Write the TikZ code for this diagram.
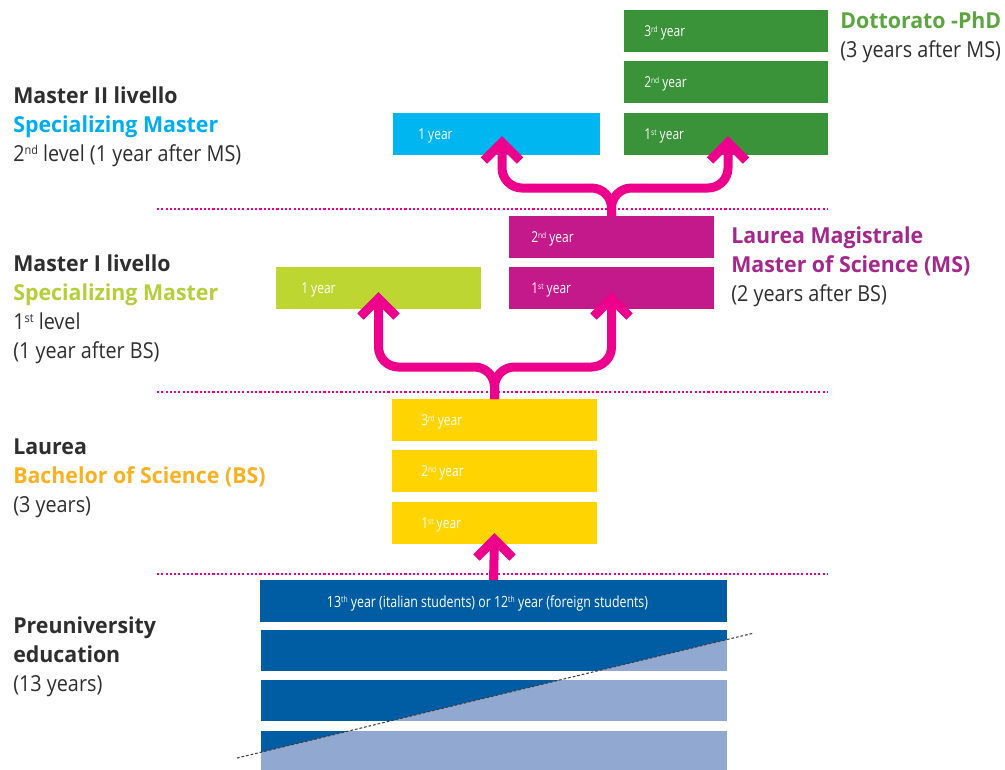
\documentclass[tikz,border=0pt]{standalone}
\usepackage{fontspec}
\usepackage{graphicx}
\setmainfont{Open Sans}
\newfontfamily\hfont[FakeStretch=0.97]{Open Sans}
\newfontfamily\regfont[FakeStretch=0.9]{Open Sans}
\newfontfamily\boxfont[FakeStretch=0.8]{Open Sans}
\newcommand\sups[1]{\raisebox{0.29em}{\scalebox{0.55}{#1}}}
\usetikzlibrary{calc}
\definecolor{txtdark}{HTML}{2E2E2E}
\definecolor{txtcyan}{HTML}{00AEEF}
\definecolor{txtlime}{HTML}{B5CF3A}
\definecolor{txtorange}{HTML}{F7B121}
\definecolor{txtgreen}{HTML}{5BA640}
\definecolor{txtmag}{HTML}{A4278B}
\definecolor{cgreen}{HTML}{3A9339}
\definecolor{ccyan}{HTML}{00B6F0}
\definecolor{cmag}{HTML}{C4198B}
\definecolor{clime}{HTML}{BDD631}
\definecolor{cyellow}{HTML}{FFD400}
\definecolor{cdblue}{HTML}{005DA3}
\definecolor{clblue}{HTML}{91A8D1}
\definecolor{cpink}{HTML}{EC008C}
\begin{document}
\begin{tikzpicture}[x=0.75pt,y=-0.75pt,
  yrbox/.style={draw=none,inner sep=0pt,outer sep=0pt,minimum height=31.5pt,minimum width=153.75pt},
  yrtext/.style={anchor=base west,inner sep=0pt,text=white,font=\boxfont\fontsize{11.25}{13}\selectfont},
  hbold/.style={anchor=base west,inner sep=0pt,font=\hfont\bfseries\fontsize{16.5}{20}\selectfont},
  hreg/.style={anchor=base west,inner sep=0pt,text=txtdark,font=\regfont\fontsize{16.5}{20}\selectfont},
  arr/.style={draw=cpink,line width=6.75pt},
  chev/.style={draw=cpink,line width=6.75pt,line join=miter,line cap=butt},
  sep/.style={draw=cpink,line width=1.8pt,dash pattern=on 1.6pt off 1.6pt},
  diag/.style={draw=black!75,line width=0.8pt,dash pattern=on 2pt off 1.5pt}]
\useasboundingbox (0,0) rectangle (1005,769);

% separators
\draw[sep] (157,209) -- (828,209);
\draw[sep] (157,392) -- (828,392);
\draw[sep] (157,574) -- (828,574);

% Dottorato
\node[yrbox,fill=cgreen,minimum width=153pt] (phd3) at (726,31) {};
\node[yrbox,fill=cgreen,minimum width=153pt] (phd2) at (726,82) {};
\node[yrbox,fill=cgreen,minimum width=153pt] (phd1) at (726,134) {};
\node[yrtext] (tphd3) at ($(phd3.west)+(20,5.5)$) {3\sups{rd} year};
\node[yrtext] (tphd2) at ($(phd2.west)+(20,5.5)$) {2\sups{nd} year};
\node[yrtext] (tphd1) at ($(phd1.west)+(20,5.5)$) {1\sups{st} year};

% Master II
\node[yrbox,fill=ccyan,minimum width=155.25pt] (m2) at (496.5,134) {};
\node[yrtext] (tm2) at ($(m2.west)+(25,5.5)$) {1 year};

% Laurea Magistrale
\node[yrbox,fill=cmag] (ms2) at (611.5,237) {};
\node[yrbox,fill=cmag] (ms1) at (611.5,288) {};
\node[yrtext] (tms2) at ($(ms2.west)+(22,5.5)$) {2\sups{nd} year};
\node[yrtext] (tms1) at ($(ms1.west)+(22,5.5)$) {1\sups{st} year};

% Master I
\node[yrbox,fill=clime] (m1) at (378.5,288) {};
\node[yrtext] (tm1) at ($(m1.west)+(25,5.5)$) {1 year};

% Bachelor
\node[yrbox,fill=cyellow] (bs3) at (494.5,420) {};
\node[yrbox,fill=cyellow] (bs2) at (494.5,471) {};
\node[yrbox,fill=cyellow] (bs1) at (494.5,523) {};
\node[yrtext] (tbs3) at ($(bs3.west)+(29,5.5)$) {3\sups{rd} year};
\node[yrtext] (tbs2) at ($(bs2.west)+(29,5.5)$) {2\sups{nd} year};
\node[yrtext] (tbs1) at ($(bs1.west)+(29,5.5)$) {1\sups{st} year};

% Preuniversity
\node[yrbox,fill=cdblue,minimum width=350.25pt] (pre13) at (493.5,601) {};
\node[anchor=base,inner sep=0pt,text=white,font=\boxfont\fontsize{11.6}{13}\selectfont] (tpre13) at ($(pre13.center)+(-6,6)$)
  {13\sups{th} year (italian students) or 12\sups{th} year (foreign students)};
\node[yrbox,fill=clblue,minimum width=349.5pt,minimum height=30.75pt] (pre12) at (494,650.5) {};
\node[yrbox,fill=clblue,minimum width=349.5pt,minimum height=30.75pt] (pre11) at (494,700.5) {};
\node[yrbox,fill=clblue,minimum width=349.5pt,minimum height=30pt] (pre10) at (494,751) {};
\coordinate (d1) at (237,758);
\coordinate (d2) at (754,633);
\begin{scope}
  \clip (d1) -- (d2) -- (754,600) -- (237,600) -- cycle;
  \fill[cdblue] (pre12.north west) rectangle (pre12.south east);
  \fill[cdblue] (pre11.north west) rectangle (pre11.south east);
  \fill[cdblue] (pre10.north west) rectangle (pre10.south east);
\end{scope}
\draw[diag] (d1) -- (d2);

% arrows
\coordinate (vA) at ($(bs1.south)+(0,-4.5)$);
\draw[arr] (pre13.north) -- (vA);
\draw[chev] ($(vA)+(-18,18)$) -- (vA) -- ($(vA)+(18,18)$);

\coordinate (vB) at ($(m1.south)+(0,-10.5)$);
\coordinate (vC) at ($(ms1.south)+(0,-10.5)$);
\draw[arr,rounded corners=15pt] (bs3.north) -- ++(0,-32) -| (vB);
\draw[arr,rounded corners=15pt] (bs3.north) -- ++(0,-32) -| (vC);
\draw[chev] ($(vB)+(-18,18)$) -- (vB) -- ($(vB)+(18,18)$);
\draw[chev] ($(vC)+(-18,18)$) -- (vC) -- ($(vC)+(18,18)$);

\coordinate (vD) at ($(m2.south)+(5.5,-12.5)$);
\coordinate (vE) at ($(phd1.south)+(2,-12.5)$);
\draw[arr,rounded corners=15pt] (ms2.north) -- ++(0,-28) -| (vD);
\draw[arr,rounded corners=15pt] (ms2.north) -- ++(0,-28) -| (vE);
\draw[chev] ($(vD)+(-18,18)$) -- (vD) -- ($(vD)+(18,18)$);
\draw[chev] ($(vE)+(-18,18)$) -- (vE) -- ($(vE)+(18,18)$);

% left labels
\node[hbold,text=txtdark] (l1a) at (13,103) {Master II livello};
\node[hbold,text=txtcyan] (l1b) at (13,132) {Specializing Master};
\node[hreg] (l1c) at (13,161) {2\sups{nd} level (1 year after MS)};

\node[hbold,text=txtdark] (l2a) at (13,271) {Master I livello};
\node[hbold,text=txtlime] (l2b) at (13,300) {Specializing Master};
\node[hreg] (l2c) at (13,329) {1\sups{st} level};
\node[hreg] (l2d) at (13,358) {(1 year after BS)};

\node[hbold,text=txtdark] (l3a) at (13,454) {Laurea};
\node[hbold,text=txtorange] (l3b) at (13,483) {Bachelor of Science (BS)};
\node[hreg] (l3c) at (13,512) {(3 years)};

\node[hbold,text=txtdark] (l4a) at (13,633) {Preuniversity};
\node[hbold,text=txtdark] (l4b) at (13,662) {education};
\node[hreg] (l4c) at (13,691) {(13 years)};

% right labels
\node[hbold,text=txtgreen] (r1a) at (840,28) {Dottorato -PhD};
\node[hreg] (r1b) at (840,57) {(3 years after MS)};

\node[hbold,text=txtmag] (r2a) at (731,243) {Laurea Magistrale};
\node[hbold,text=txtmag] (r2b) at (731,272) {Master of Science (MS)};
\node[hreg] (r2c) at (731,301) {(2 years after BS)};
\end{tikzpicture}
\end{document}
